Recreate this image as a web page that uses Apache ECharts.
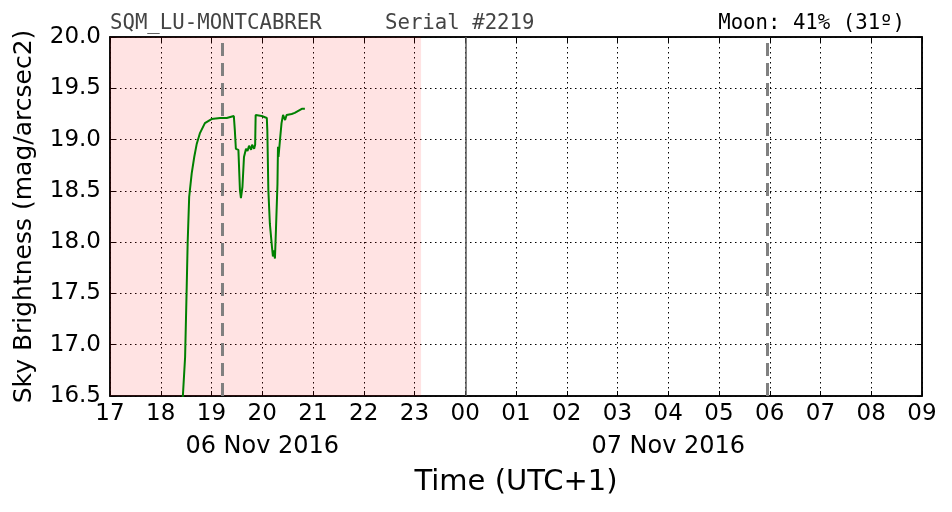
<!DOCTYPE html>
<html>
<head>
<meta charset="utf-8">
<script src="https://cdn.jsdelivr.net/npm/echarts@6/dist/echarts.min.js"></script>
<style>html,body{margin:0;padding:0;background:#fff}#c{width:952px;height:512px}</style>
</head>
<body>
<div id="c"></div>
<script>
// Hours since 00:00 06 Nov 2016 (UTC+1); values > 24 are on 07 Nov
const hours = [18.43, 18.48, 18.51, 18.53, 18.56, 18.61, 18.66, 18.71, 18.77, 18.87, 19.00, 19.17, 19.30, 19.44, 19.46, 19.48, 19.53, 19.56, 19.58, 19.61, 19.64, 19.68, 19.71, 19.74, 19.78, 19.80, 19.84, 19.86, 19.87, 19.90, 19.99, 20.09, 20.10, 20.12, 20.15, 20.19, 20.21, 20.23, 20.25, 20.27, 20.30, 20.31, 20.32, 20.35, 20.38, 20.41, 20.45, 20.48, 20.58, 20.64, 20.71, 20.78, 20.84];
const brightness = [16.45, 16.88, 17.53, 17.99, 18.44, 18.67, 18.83, 18.96, 19.06, 19.16, 19.20, 19.21, 19.21, 19.23, 19.09, 18.91, 18.90, 18.51, 18.43, 18.54, 18.83, 18.91, 18.89, 18.94, 18.90, 18.95, 18.91, 18.95, 19.24, 19.25, 19.23, 19.21, 19.09, 18.51, 18.18, 17.96, 17.86, 17.92, 17.84, 18.12, 18.57, 18.93, 18.83, 19.00, 19.16, 19.24, 19.19, 19.24, 19.25, 19.26, 19.28, 19.30, 19.30];
const xTicks = [17, 33];            // axis range, hourly ticks
const yTicks = [16.5, 20.0];        // axis range, 0.5 steps
const nightShade = [17, 23.13];     // shaded (pink) interval
const moonEvents = [19.207, 29.946];// gray dashed lines
const midnight = [24];
const dateLabels = {20: '06 Nov 2016', 28: '07 Nov 2016'};
const headerLeft = 'SQM_LU-MONTCABRER';
const headerMid = 'Serial #2219';
const headerRight = 'Moon: 41% (31º)';

const pad = n => (n < 10 ? '0' : '') + n;
const chart = echarts.init(document.getElementById('c'), null, {renderer: 'canvas'});
const FONT = 'DejaVu Sans';
const MONO = 'DejaVu Sans Mono';
const dotted = {show: true, lineStyle: {color: '#000', width: 1, type: [1.5, 3.5]}};
const tick = {show: true, inside: true, length: 5, lineStyle: {color: '#000', width: 1}};
const noLabel = {show: false};

chart.setOption({
  animation: false,
  grid: {left: 110, right: 30, top: 37, bottom: 116, outerBoundsMode: 'none', containLabel: false,
    show: true, borderColor: '#000', borderWidth: 1.5, backgroundColor: 'transparent'},
  xAxis: [{
    type: 'value', min: xTicks[0], max: xTicks[1], interval: 1,
    axisLine: {show: true, onZero: false, lineStyle: {color: '#000', width: 1.5}},
    axisTick: tick,
    splitLine: dotted,
    axisLabel: {fontFamily: FONT, fontSize: 23, color: '#000', margin: 7, formatter: v => pad(Math.round(v) % 24)}
  }, {
    type: 'value', min: xTicks[0], max: xTicks[1], interval: 1, position: 'bottom', offset: 31,
    axisLine: {show: false}, axisTick: {show: false}, splitLine: {show: false},
    axisLabel: {fontFamily: FONT, fontSize: 24, color: '#000', margin: 8,
      formatter: v => dateLabels[Math.round(v)] || ''}
  }, {
    type: 'value', min: xTicks[0], max: xTicks[1], interval: 1, position: 'top',
    axisLine: {show: true, onZero: false, lineStyle: {color: '#000', width: 1.5}},
    axisTick: tick, splitLine: {show: false}, axisLabel: noLabel
  }],
  yAxis: [{
    type: 'value', min: yTicks[0], max: yTicks[1], interval: 0.5,
    name: 'Sky Brightness (mag/arcsec2)', nameLocation: 'middle', nameGap: 73,
    nameTextStyle: {fontFamily: FONT, fontSize: 25, color: '#000'},
    axisLine: {show: true, onZero: false, lineStyle: {color: '#000', width: 1.5}},
    axisTick: tick,
    splitLine: dotted,
    axisLabel: {fontFamily: FONT, fontSize: 23, color: '#000', margin: 9, formatter: v => v.toFixed(1)}
  }, {
    type: 'value', min: yTicks[0], max: yTicks[1], interval: 0.5, position: 'right',
    axisLine: {show: true, onZero: false, lineStyle: {color: '#000', width: 1.5}},
    axisTick: tick, splitLine: {show: false}, axisLabel: noLabel
  }],
  graphic: [
    {type: 'text', x: 110, y: 34, style: {text: headerLeft, fontFamily: MONO, fontSize: 20.7, fill: '#444', align: 'left', verticalAlign: 'bottom'}},
    {type: 'text', x: 385, y: 34, style: {text: headerMid, fontFamily: MONO, fontSize: 20.7, fill: '#444', align: 'left', verticalAlign: 'bottom'}},
    {type: 'text', x: 905, y: 34, style: {text: headerRight, fontFamily: MONO, fontSize: 20.7, fill: '#000', align: 'right', verticalAlign: 'bottom'}},
    {type: 'text', x: 516, y: 482, style: {text: 'Time (UTC+1)', fontFamily: FONT, fontSize: 29, fill: '#000', align: 'center', verticalAlign: 'middle'}}
  ],
  series: [{
    type: 'line', xAxisIndex: 0, yAxisIndex: 0, data: [], silent: true,
    markArea: {silent: true, itemStyle: {color: 'rgba(255,0,0,0.11)'}, data: [[{xAxis: nightShade[0]}, {xAxis: nightShade[1]}]]},
    markLine: {silent: true, symbol: 'none', label: {show: false},
      data: moonEvents.map(h => ({xAxis: h, lineStyle: {color: '#808080', width: 3, type: [13, 7]}}))
        .concat(midnight.map(h => ({xAxis: h, lineStyle: {color: '#555', width: 1.5, type: 'solid'}})))}
  }, {
    type: 'line', xAxisIndex: 0, yAxisIndex: 0, showSymbol: false, clip: true,
    lineStyle: {color: '#008000', width: 2},
    data: hours.map((h, i) => [h, brightness[i]]), z: 5
  }]
});
</script>
</body>
</html>
